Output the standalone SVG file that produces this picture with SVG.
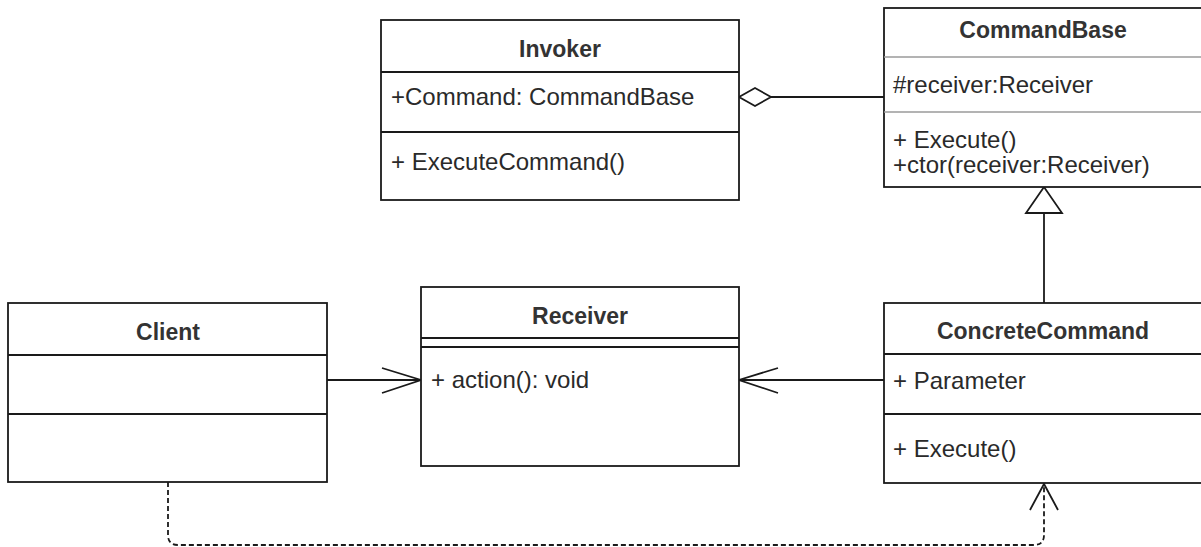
<svg xmlns="http://www.w3.org/2000/svg" width="1201" height="547" viewBox="0 0 1201 547">
<style>
.box{fill:#fff;stroke:#1a1a1a;stroke-width:1.8}
.div{stroke:#1a1a1a;stroke-width:1.8}
.gdiv{stroke:#9a9a9a;stroke-width:1.4}
.t{font-family:"Liberation Sans",Arial,sans-serif;font-size:23px;font-weight:bold;fill:#333;text-anchor:middle}
.m{font-family:"Liberation Sans",Arial,sans-serif;font-size:24px;fill:#2a2a2a}
.ln{fill:none;stroke:#1a1a1a;stroke-width:1.8}
.dash{fill:none;stroke:#1a1a1a;stroke-width:1.8;stroke-dasharray:5 3}
</style>
<rect width="1201" height="547" fill="#fff"/>
<g id="connectors">
  <path class="ln" d="M771 97 L884 97"/>
  <path class="ln" d="M739 97 L755 88 L771 97 L755 106 Z" style="fill:#fff"/>
  <path class="ln" d="M1044 303 L1044 213"/>
  <path class="ln" d="M1044 187 L1026 213 L1062 213 Z" style="fill:#fff"/>
  <path class="ln" d="M327 380 L421 380"/>
  <path class="ln" d="M382 368 L421 380 L382 393"/>
  <path class="ln" d="M884 380 L739 380"/>
  <path class="ln" d="M778 368 L739 380 L778 393"/>
  <path class="dash" d="M168 482 L168 535 Q168 545 178 545 L1034 545 Q1044 545 1044 535 L1044 484"/>
  <path class="ln" d="M1030 510 L1044 484 L1058 510"/>
</g>
<g id="invoker">
  <rect class="box" x="381" y="20" width="358" height="180"/>
  <line class="div" x1="381" y1="72" x2="739" y2="72"/>
  <line class="div" x1="381" y1="132" x2="739" y2="132"/>
  <text class="t" x="560" y="57">Invoker</text>
  <text class="m" x="391" y="105">+Command: CommandBase</text>
  <text class="m" x="391" y="170">+ ExecuteCommand()</text>
</g>
<g id="commandbase">
  <rect class="box" x="884" y="8" width="320" height="179"/>
  <line class="gdiv" x1="884" y1="57" x2="1201" y2="57"/>
  <line class="gdiv" x1="884" y1="112" x2="1201" y2="112"/>
  <text class="t" x="1043" y="38">CommandBase</text>
  <text class="m" x="893" y="93">#receiver:Receiver</text>
  <text class="m" x="893" y="148">+ Execute()</text>
  <text class="m" x="893" y="173">+ctor(receiver:Receiver)</text>
</g>
<g id="client">
  <rect class="box" x="8" y="303" width="319" height="179"/>
  <line class="div" x1="8" y1="355" x2="327" y2="355"/>
  <line class="div" x1="8" y1="414" x2="327" y2="414"/>
  <text class="t" x="168" y="340">Client</text>
</g>
<g id="receiver">
  <rect class="box" x="421" y="287" width="318" height="179"/>
  <line class="div" x1="421" y1="338" x2="739" y2="338"/>
  <line class="div" x1="421" y1="347" x2="739" y2="347"/>
  <text class="t" x="580" y="324">Receiver</text>
  <text class="m" x="431" y="388">+ action(): void</text>
</g>
<g id="concretecommand">
  <rect class="box" x="884" y="303" width="320" height="180"/>
  <line class="div" x1="884" y1="354" x2="1201" y2="354"/>
  <line class="div" x1="884" y1="414" x2="1201" y2="414"/>
  <text class="t" x="1043" y="339">ConcreteCommand</text>
  <text class="m" x="893" y="389">+ Parameter</text>
  <text class="m" x="893" y="457">+ Execute()</text>
</g>
</svg>
